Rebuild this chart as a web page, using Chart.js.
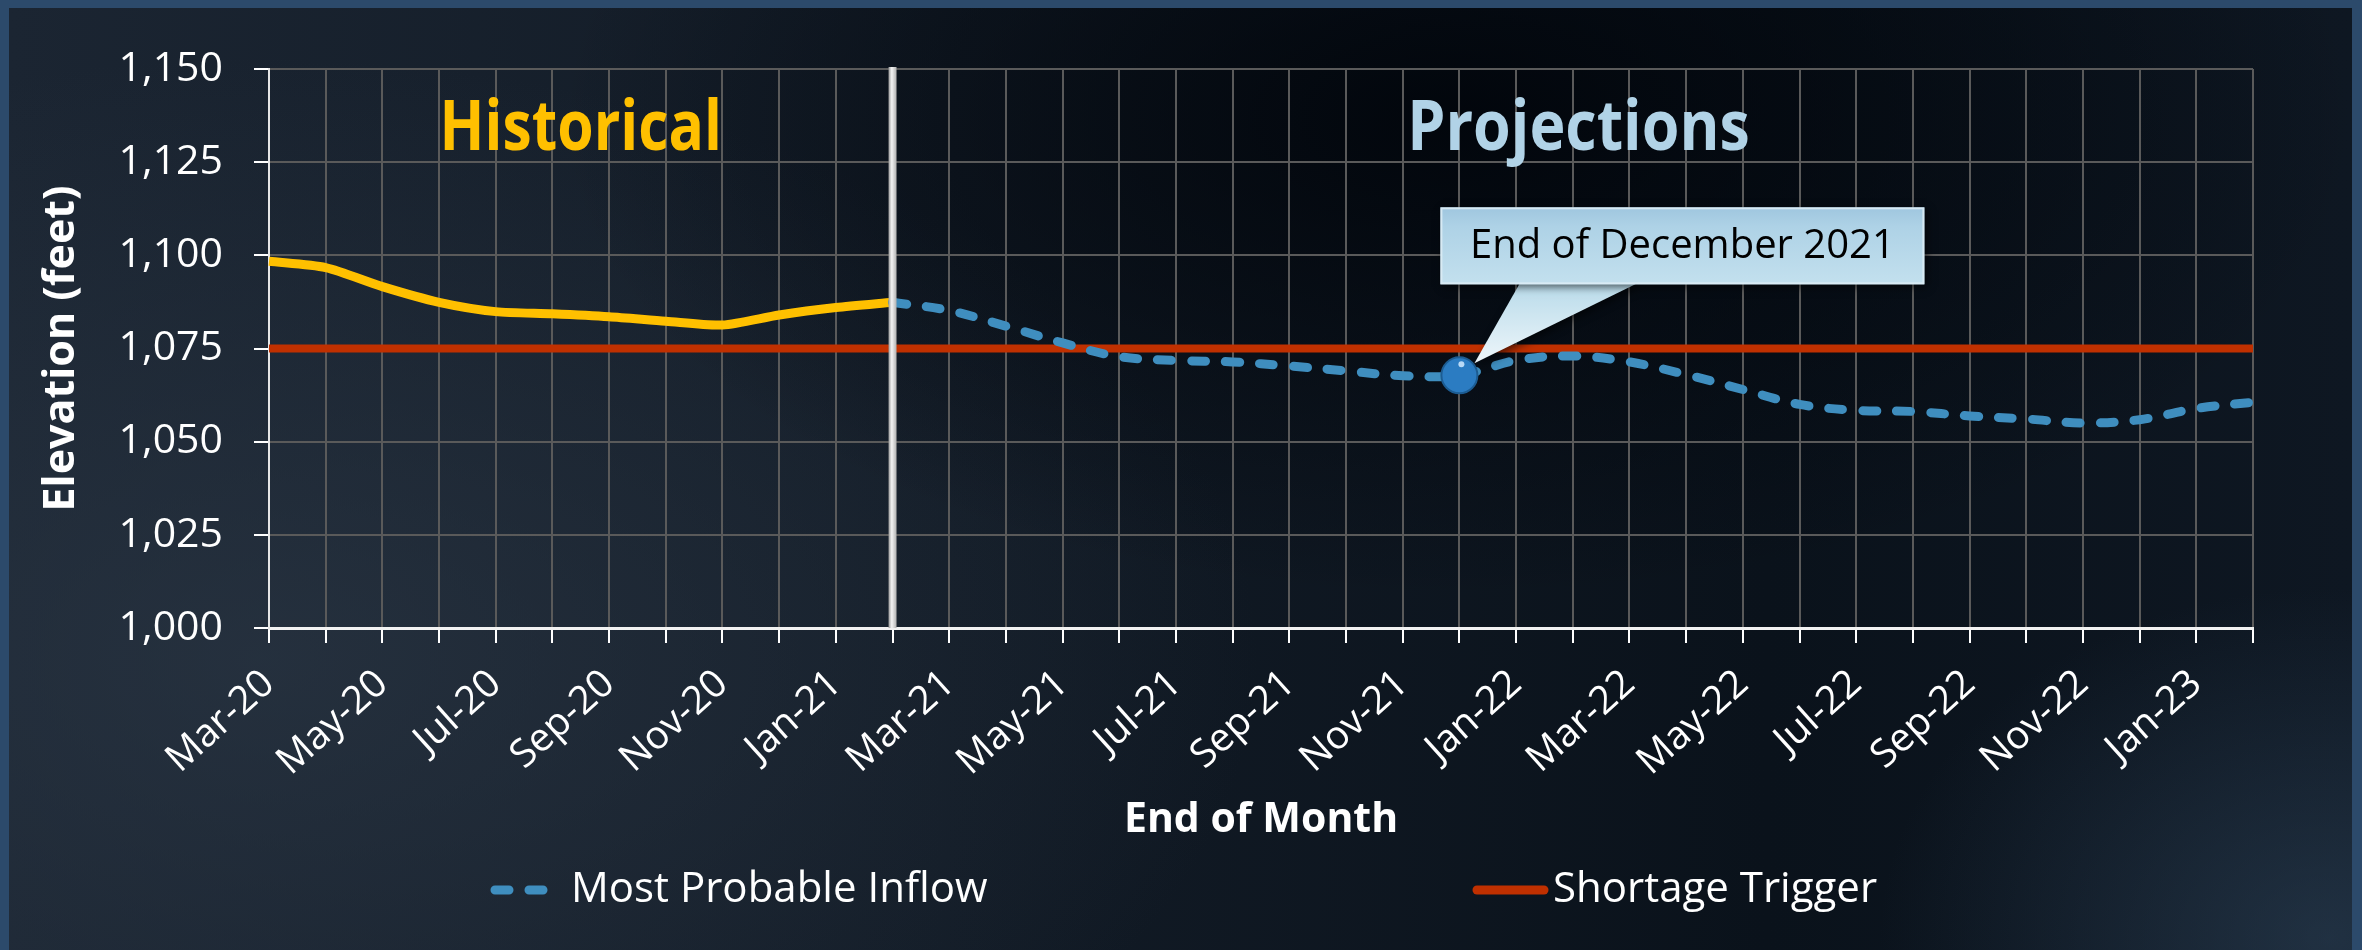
<!DOCTYPE html>
<html>
<head>
<meta charset="utf-8">
<title>End of Month Elevation</title>
<script src="https://cdn.jsdelivr.net/npm/chart.js@4.4.1/dist/chart.umd.min.js"></script>
<style>
  html, body { margin: 0; padding: 0; }
  body { width: 2362px; height: 950px; overflow: hidden; position: relative; background: #2c4a6b; }
  #panel {
    position: absolute; left: 9px; top: 8px; width: 2343px; height: 942px;
    background:
      radial-gradient(ellipse 900px 480px at 1450px 110px, rgba(1,5,11,0.95), rgba(1,5,11,0) 100%),
      radial-gradient(ellipse 450px 350px at 2320px 930px, rgba(55,80,105,0.45), rgba(55,80,105,0) 100%),
      radial-gradient(ellipse 1000px 600px at 250px 650px, rgba(42,54,68,0.7), rgba(42,54,68,0) 100%),
      linear-gradient(90deg, #1b2532 0%, #121b26 40%, #0a121b 75%, #0e1722 100%);
  }
  #chart { position: absolute; left: 0; top: 0; }
</style>
</head>
<body>
<div id="panel"></div>
<canvas id="chart" width="2362" height="950"></canvas>
<script>
// end-of-month labels, Mar-20 .. Feb-23
const months = [
  "Mar-20", "Apr-20", "May-20", "Jun-20", "Jul-20", "Aug-20", "Sep-20", "Oct-20", "Nov-20", "Dec-20", "Jan-21", "Feb-21",
  "Mar-21", "Apr-21", "May-21", "Jun-21", "Jul-21", "Aug-21", "Sep-21", "Oct-21", "Nov-21", "Dec-21", "Jan-22", "Feb-22",
  "Mar-22", "Apr-22", "May-22", "Jun-22", "Jul-22", "Aug-22", "Sep-22", "Oct-22", "Nov-22", "Dec-22", "Jan-23", "Feb-23"
];

// elevation in feet
const historical = [
  1098.4, 1096.7, 1091.6, 1087.4, 1084.9, 1084.3, 1083.5, 1082.3, 1081.3, 1084.0, 1086.0, 1087.4,
  null, null, null, null, null, null, null, null, null, null, null, null,
  null, null, null, null, null, null, null, null, null, null, null, null
];
const mostProbable = [
  null, null, null, null, null, null, null, null, null, null, null, 1087.4,
  1085.2, 1081.0, 1076.5, 1072.8, 1071.8, 1071.4, 1070.3, 1069.0, 1067.7, 1067.8, 1071.8, 1073.0,
  1071.4, 1068.0, 1064.0, 1060.0, 1058.4, 1058.1, 1056.9, 1056.1, 1055.0, 1055.9, 1058.9, 1060.6
];
const shortageTrigger = [
  1075, 1075, 1075, 1075, 1075, 1075, 1075, 1075, 1075, 1075, 1075, 1075,
  1075, 1075, 1075, 1075, 1075, 1075, 1075, 1075, 1075, 1075, 1075, 1075,
  1075, 1075, 1075, 1075, 1075, 1075, 1075, 1075, 1075, 1075, 1075, 1075
];
const yTicks = [1000, 1025, 1050, 1075, 1100, 1125, 1150];

const splitIndex = 11;    // last historical month (Feb-21)
const calloutIndex = 21;  // Dec-21
const calloutText = "End of December 2021";

const FONT = "'Open Sans', 'DejaVu Sans', sans-serif";

// white divider between historical and projected months
const dividerPlugin = {
  id: "divider",
  afterDatasetsDraw(chart) {
    const { ctx, chartArea } = chart;
    const x = chart.scales.x.getPixelForValue(splitIndex);
    const g = ctx.createLinearGradient(x - 4, 0, x + 4, 0);
    g.addColorStop(0, "#9a9a9a");
    g.addColorStop(0.4, "#f4f4f4");
    g.addColorStop(1, "#b0b0b0");
    ctx.save();
    ctx.fillStyle = g;
    ctx.fillRect(x - 4, chartArea.top - 2, 8, chartArea.bottom - chartArea.top + 2);
    ctx.restore();
  }
};

// "Historical" / "Projections" headings inside the plot
const headingPlugin = {
  id: "headings",
  afterDatasetsDraw(chart) {
    const { ctx, chartArea } = chart;
    const xs = chart.scales.x;
    const draw = (text, cx, color, sx) => {
      ctx.save();
      ctx.translate(cx, chartArea.top + 81);
      ctx.scale(sx, 1);
      ctx.font = "bold 70px " + FONT;
      ctx.textAlign = "center";
      ctx.textBaseline = "alphabetic";
      ctx.fillStyle = color;
      ctx.fillText(text, 0, 0);
      ctx.restore();
    };
    draw("Historical", xs.getPixelForValue(5.5), "#ffc000", 0.84);
    draw("Projections", xs.getPixelForValue(23.1), "#b1d3e7", 0.87);
  }
};

// callout box pointing at the end of December 2021 point
const calloutPlugin = {
  id: "callout",
  afterDatasetsDraw(chart) {
    const { ctx } = chart;
    const pt = chart.getDatasetMeta(1).data[calloutIndex];
    if (!pt) return;
    const px = pt.x, py = pt.y;
    const bx = px - 19, by = py - 168, bw = 484, bh = 77;

    ctx.save();
    // pointer
    const tg = ctx.createLinearGradient(0, by + bh, 0, py - 12);
    tg.addColorStop(0, "#b9dbea");
    tg.addColorStop(1, "#eef6fa");
    ctx.shadowColor = "rgba(0,0,0,0.6)";
    ctx.shadowBlur = 8;
    ctx.shadowOffsetX = 3;
    ctx.shadowOffsetY = 3;
    ctx.beginPath();
    ctx.moveTo(px + 61, by + bh - 2);
    ctx.lineTo(px + 180, by + bh - 2);
    ctx.lineTo(px + 15, py - 12);
    ctx.closePath();
    ctx.fillStyle = tg;
    ctx.fill();

    // box
    const bg = ctx.createLinearGradient(0, by, 0, by + bh);
    bg.addColorStop(0, "#9fc6df");
    bg.addColorStop(0.25, "#aed2e6");
    bg.addColorStop(1, "#c3e0ee");
    ctx.fillStyle = bg;
    ctx.fillRect(bx, by, bw, bh);
    ctx.shadowColor = "transparent";
    ctx.strokeStyle = "rgba(220,236,245,0.9)";
    ctx.lineWidth = 2;
    ctx.strokeRect(bx + 1, by + 1, bw - 2, bh - 2);

    // text
    ctx.font = "40px " + FONT;
    ctx.textAlign = "center";
    ctx.textBaseline = "middle";
    ctx.fillStyle = "#000000";
    ctx.fillText(calloutText, bx + bw / 2, by + bh / 2 + 1);

    // glint on the marker
    ctx.fillStyle = "rgba(210,235,255,0.85)";
    ctx.beginPath();
    ctx.arc(px + 2, py - 11, 3, 0, Math.PI * 2);
    ctx.fill();
    ctx.restore();
  }
};

// legend drawn under the axis title
const legendPlugin = {
  id: "bottomLegend",
  afterDraw(chart) {
    const { ctx } = chart;
    const items = [
      { ds: chart.data.datasets[1], x0: 495, x1: 547, tx: 571 },
      { ds: chart.data.datasets[2], x0: 1477, x1: 1544, tx: 1553 }
    ];
    const y = 890;
    ctx.save();
    items.forEach(it => {
      ctx.beginPath();
      ctx.strokeStyle = it.ds.borderColor;
      ctx.lineWidth = 9;
      ctx.lineCap = "round";
      ctx.setLineDash(it.ds.borderDash || []);
      ctx.moveTo(it.x0, y);
      ctx.lineTo(it.x1, y);
      ctx.stroke();
      ctx.setLineDash([]);
      ctx.font = "42px " + FONT;
      ctx.textAlign = "left";
      ctx.textBaseline = "middle";
      ctx.fillStyle = "#ffffff";
      ctx.fillText(it.ds.label, it.tx, y);
    });
    ctx.restore();
  }
};

new Chart(document.getElementById("chart"), {
  type: "line",
  data: {
    labels: months,
    datasets: [
      {
        label: "Historical",
        data: historical,
        borderColor: "#ffc000",
        borderWidth: 9,
        pointRadius: 0,
        tension: 0.25,
        order: 2
      },
      {
        label: "Most Probable Inflow",
        data: mostProbable,
        borderColor: "#3f8ebf",
        borderWidth: 9,
        borderDash: [14, 20],
        borderCapStyle: "round",
        tension: 0.35,
        pointRadius: (c) => (c.dataIndex === calloutIndex ? 18 : 0),
        pointBackgroundColor: "#2b7cc2",
        pointBorderColor: "#1c5c92",
        pointBorderWidth: 2,
        order: 1
      },
      {
        label: "Shortage Trigger",
        data: shortageTrigger,
        borderColor: "#c03000",
        borderWidth: 8,
        pointRadius: 0,
        order: 3
      }
    ]
  },
  options: {
    responsive: false,
    animation: false,
    devicePixelRatio: 1,
    layout: { padding: { left: 0, top: 69, right: 109, bottom: 100 } },
    plugins: {
      legend: { display: false },
      tooltip: { enabled: false }
    },
    scales: {
      x: {
        offset: false,
        grid: { color: "#5a5a5a", lineWidth: 2, tickColor: "#ffffff", tickLength: 15 },
        border: { color: "#f2f2f2", width: 3 },
        ticks: {
          autoSkip: false,
          maxRotation: 42,
          minRotation: 42,
          padding: 18,
          color: "#ffffff",
          font: { family: FONT, size: 39 },
          callback: (v, i) => (i % 2 === 0 ? months[i] : "")
        },
        title: {
          display: true,
          text: "End of Month",
          color: "#ffffff",
          font: { family: FONT, size: 41, weight: "bold" },
          padding: { top: 0, bottom: 5 }
        },
        afterFit(s) { s.height = 222; }
      },
      y: {
        min: 1000,
        max: 1150,
        afterBuildTicks(s) { s.ticks = yTicks.map(v => ({ value: v })); },
        grid: { color: "#5a5a5a", lineWidth: 2, tickColor: "#ffffff", tickLength: 15 },
        border: { color: "#e6e6e6", width: 2 },
        ticks: {
          padding: 31,
          color: "#ffffff",
          font: { family: FONT, size: 41 },
          callback: (v) => v.toLocaleString("en-US")
        },
        title: {
          display: true,
          text: "Elevation (feet)",
          color: "#ffffff",
          font: { family: FONT, size: 43, weight: "bold" },
          padding: { top: 36, bottom: 0 }
        },
        afterFit(s) { s.width = 269; }
      }
    }
  },
  plugins: [dividerPlugin, headingPlugin, calloutPlugin, legendPlugin]
});
</script>
</body>
</html>
